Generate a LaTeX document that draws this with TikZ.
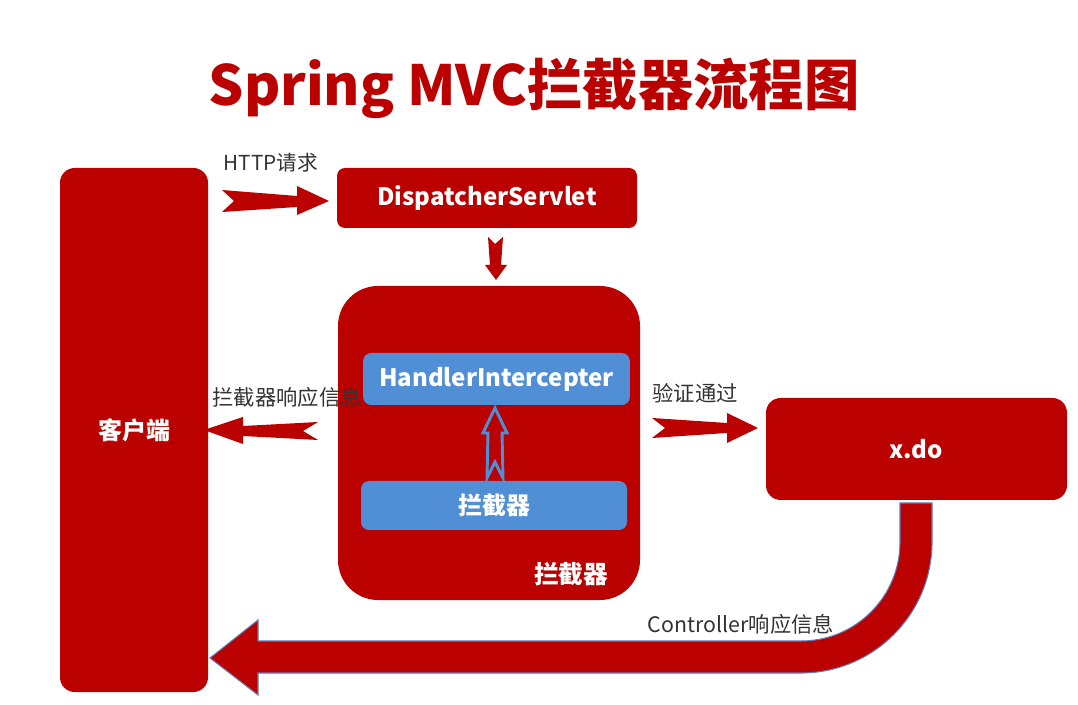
\documentclass[tikz,border=0pt]{standalone}
\usepackage{fontspec}
\setmainfont{Noto Sans CJK SC}
\definecolor{dred}{RGB}{187,0,0}
\definecolor{mblue}{RGB}{80,143,214}
\definecolor{edgeblue}{RGB}{95,125,185}
\begin{document}
\begin{tikzpicture}[x=0.75pt,y=-0.75pt,
  redbox/.style={fill=dred, draw=none, text=white, inner sep=0pt, font=\bfseries\fontsize{18}{20}\selectfont},
  bluebox/.style={fill=mblue, draw=none, text=white, inner sep=0pt, rounded corners=6pt, font=\bfseries\fontsize{18}{20}\selectfont},
  lbl/.style={text=black!80, inner sep=0pt, font=\fontsize{16}{18}\selectfont},
  blockarrow/.style={fill=dred, draw=none}
]
\useasboundingbox (0,0) rectangle (1078,705);

% title
\node[text=dred, font=\bfseries\fontsize{41.5}{44}\selectfont, inner sep=0pt] (title) at (534,88) {Spring MVC拦截器流程图};

% boxes
\node[redbox, rounded corners=11pt, minimum width=111pt, minimum height=393pt] (client) at (134,430) {客户端};
\node[redbox, rounded corners=6pt, minimum width=225pt, minimum height=45pt] (ds) at (487,198) {DispatcherServlet};
\node[redbox, rounded corners=30pt, minimum width=226.5pt, minimum height=235.5pt] (ic) at (489,443) {};
\node[bluebox, minimum width=200pt, minimum height=39pt] (hi) at (496.5,379) {HandlerIntercepter};
\node[bluebox, minimum width=199.5pt, minimum height=36.75pt] (lj) at (494,505.5) {拦截器};
\node[text=white, inner sep=0pt, font=\bfseries\fontsize{18.5}{20}\selectfont] (iclabel) at (571,574) {拦截器};
\node[redbox, rounded corners=11pt, minimum width=225.75pt, minimum height=76.5pt] (xdo) at (916.5,449) {x.do};

% labels
\node[lbl, font=\fontsize{15.5}{18}\selectfont] (l1) at (271,163) {HTTP请求};
\node[lbl] (l3) at (695,393) {验证通过};
\node[lbl] (l4) at (741,624) {Controller响应信息};

% HTTP request arrow (client -> DispatcherServlet)
\fill[blockarrow] (222,190) -- (297,196) -- (297,186) -- (329,201) -- (297,215) -- (297,207) -- (222,212) -- (234,201) -- cycle;
% down arrow (DispatcherServlet -> interceptor)
\fill[blockarrow] (488,237) -- (495,244) -- (503,237) -- (501,265) -- (507,265) -- (496,280) -- (485,265) -- (490,265) -- cycle;
% left arrow (interceptor -> client)
\fill[blockarrow] (204,430) -- (243,417) -- (243,426) -- (318,422) -- (303,431) -- (318,440) -- (243,436) -- (243,444) -- cycle;
\node[lbl] (l2) at (287,397) {拦截器响应信息};
% right arrow (interceptor -> x.do)
\fill[blockarrow] (652,418) -- (727,423) -- (727,413) -- (758,428) -- (727,443) -- (727,433) -- (652,438) -- (665,428) -- cycle;

% hollow blue arrow (拦截器 -> HandlerIntercepter)
\draw[mblue, line width=2.2pt, line join=miter] (495,408) -- (507,433) -- (502,433) -- (503,478) -- (495,462) -- (487,478) -- (488,433) -- (483,433) -- cycle;

% big curved arrow (x.do -> client)
\draw[fill=dred, draw=edgeblue, line width=0.8pt]
  (932,503) -- (932,542) arc[start angle=0, end angle=90, radius=131]
  -- (258,673) -- (258,695) -- (210,658) -- (258,620) -- (258,641) -- (801,641)
  arc[start angle=90, end angle=0, radius=99] -- (900,503) -- cycle;
\end{tikzpicture}
\end{document}
